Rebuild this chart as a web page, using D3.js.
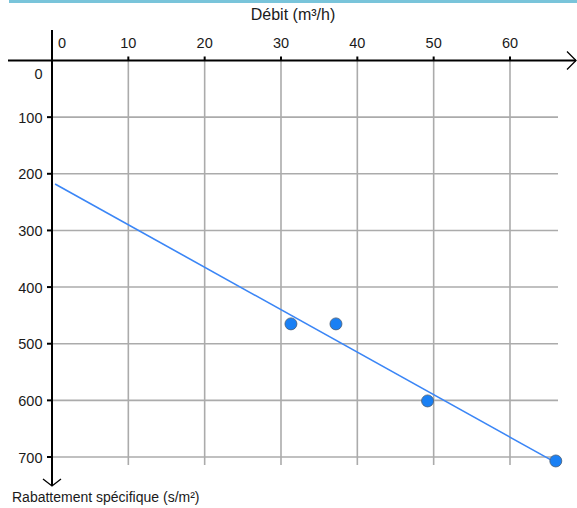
<!DOCTYPE html>
<html>
<head>
<meta charset="utf-8">
<script src="https://cdn.jsdelivr.net/npm/d3@7"></script>
<style>
  html, body { margin: 0; padding: 0; background: #fff; }
  svg { display: block; font-family: "Liberation Sans", Arial, sans-serif; }
</style>
</head>
<body>
<div id="chart"></div>
<script>
// Données
const debit = [31.3, 37.2, 49.2, 66.0];
const rabattement = [465, 465, 601, 707];
const trendX = [0.4, 66.0];
const trendY = [218, 710];
const xTicks = [0, 10, 20, 30, 40, 50, 60];
const yTicks = [0, 100, 200, 300, 400, 500, 600, 700];
const xTitle = "Débit (m³/h)";
const yTitle = "Rabattement spécifique (s/m²)";

const width = 577;
const height = 508;

const x = d3.scaleLinear([0, 60], [52, 510]);
const y = d3.scaleLinear([0, 700], [60.5, 457]);

const svg = d3.create("svg")
    .attr("viewBox", [0, 0, width, height])
    .attr("width", width)
    .attr("height", height);

// Bordure en haut
svg.append("rect")
    .attr("x", 9).attr("y", 0)
    .attr("width", width - 9).attr("height", 3)
    .attr("fill", "#79c4da");

// Grille
const grid = svg.append("g")
    .attr("stroke", "#ababab")
    .attr("stroke-width", 1.6);

grid.selectAll(".vx")
    .data(xTicks.filter(d => d > 0))
    .join("line")
      .attr("x1", d => x(d)).attr("x2", d => x(d))
      .attr("y1", y(0)).attr("y2", y(700) + 8);

grid.selectAll(".hy")
    .data(yTicks.filter(d => d > 0))
    .join("line")
      .attr("x1", x(0)).attr("x2", 558)
      .attr("y1", d => y(d)).attr("y2", d => y(d));

// Axes
const axes = svg.append("g")
    .attr("stroke", "#000")
    .attr("fill", "none");

axes.append("line")
    .attr("x1", 8).attr("x2", 576)
    .attr("y1", y(0)).attr("y2", y(0))
    .attr("stroke-width", 2);
axes.append("path")
    .attr("d", `M567,${y(0) - 9}L576,${y(0)}L567,${y(0) + 9}`)
    .attr("stroke-width", 1.3);

axes.append("line")
    .attr("x1", x(0)).attr("x2", x(0))
    .attr("y1", 30).attr("y2", 486)
    .attr("stroke-width", 2);
axes.append("path")
    .attr("d", `M${x(0) - 9},479L${x(0)},486L${x(0) + 9},479`)
    .attr("stroke-width", 1.3);

// Graduations
axes.selectAll(".tx")
    .data(xTicks.filter(d => d > 0))
    .join("line")
      .attr("x1", d => x(d)).attr("x2", d => x(d))
      .attr("y1", y(0) - 4).attr("y2", y(0))
      .attr("stroke-width", 2);

axes.selectAll(".ty")
    .data(yTicks.filter(d => d > 0))
    .join("line")
      .attr("x1", x(0) - 5).attr("x2", x(0))
      .attr("y1", d => y(d)).attr("y2", d => y(d))
      .attr("stroke-width", 2);

// Étiquettes
svg.append("g")
    .attr("font-size", 14.5)
    .attr("fill", "#1a1a1a")
    .selectAll("text")
    .data(xTicks)
    .join("text")
      .attr("x", d => d === 0 ? x(0) + 6 : x(d))
      .attr("y", 48)
      .attr("text-anchor", d => d === 0 ? "start" : "middle")
      .text(d => d);

svg.append("g")
    .attr("font-size", 14.5)
    .attr("fill", "#1a1a1a")
    .attr("text-anchor", "end")
    .selectAll("text")
    .data(yTicks)
    .join("text")
      .attr("x", 42.5)
      .attr("y", d => d === 0 ? y(0) + 18.5 : y(d) + 5.5)
      .text(d => d);

svg.append("text")
    .attr("x", 293).attr("y", 20)
    .attr("text-anchor", "middle")
    .attr("font-size", 16)
    .attr("fill", "#1a1a1a")
    .text(xTitle);

svg.append("text")
    .attr("x", 12).attr("y", 502)
    .attr("font-size", 14)
    .attr("fill", "#1a1a1a")
    .text(yTitle);

// Droite de tendance
svg.append("path")
    .datum(d3.zip(trendX, trendY))
    .attr("fill", "none")
    .attr("stroke", "#3b86f6")
    .attr("stroke-width", 1.6)
    .attr("d", d3.line(d => x(d[0]), d => y(d[1])));

// Points
svg.append("g")
    .selectAll("circle")
    .data(d3.zip(debit, rabattement))
    .join("circle")
      .attr("cx", d => x(d[0]))
      .attr("cy", d => y(d[1]))
      .attr("r", 6)
      .attr("fill", "#1a80f4")
      .attr("stroke", "#4a5d75")
      .attr("stroke-width", 0.8);

document.getElementById("chart").appendChild(svg.node());
</script>
</body>
</html>
